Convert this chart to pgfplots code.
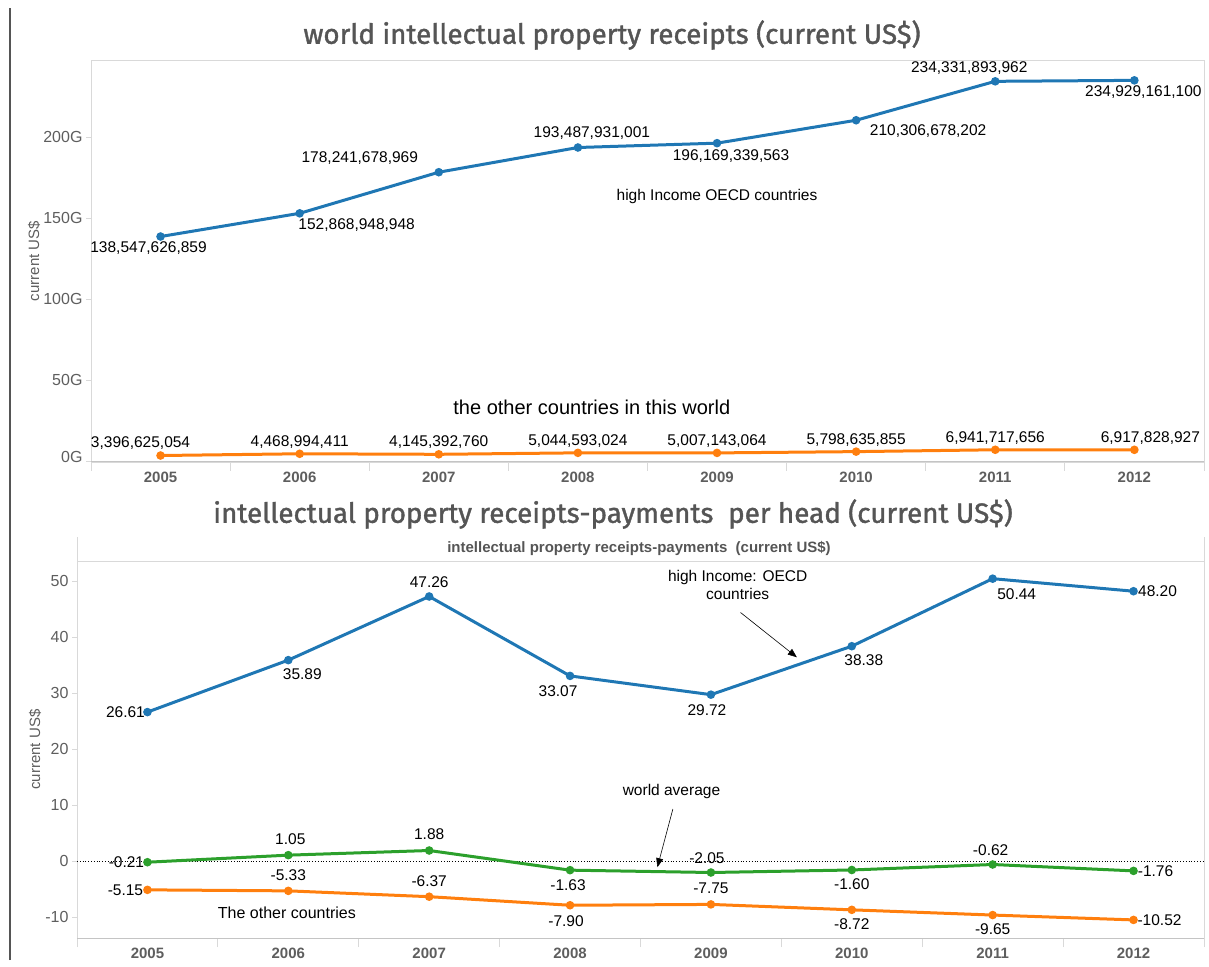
\documentclass[border=0pt]{standalone}
\usepackage{pgfplots}
\pgfplotsset{compat=1.18}
\usepackage{pgfplotstable}
\usepackage{fontspec}
\setmainfont{Liberation Sans}
\newfontfamily\titlefont{Fira Sans}[FakeBold=1.3]
\usetikzlibrary{arrows.meta}
\definecolor{tblue}{HTML}{1F77B4}
\definecolor{torange}{HTML}{FF7F0E}
\definecolor{tgreen}{HTML}{2CA02C}
\definecolor{tgray}{HTML}{555555}
\definecolor{ticktext}{HTML}{5E5E5E}
\definecolor{frame}{HTML}{D9D9D9}
\definecolor{axisline}{HTML}{C4C4C4}

% top panel: receipts in billions (G) of current US$
\pgfplotstableread{
x y dx dy label
0 138.547626859 -12 -12 138,547,626,859
1 152.868948948 57 -12 152,868,948,948
2 178.241678969 -79 14 178,241,678,969
3 193.487931001 14 14 193,487,931,001
4 196.169339563 14 -13 196,169,339,563
5 210.306678202 72 -11 210,306,678,202
6 234.331893962 -26 13 234,331,893,962
7 234.929161100 9 -12 234,929,161,100
}\topblue
\pgfplotstableread{
x y dx dy label
0 3.396625054 -20 12 3,396,625,054
1 4.468994411 0 12 4,468,994,411
2 4.145392760 0 12 4,145,392,760
3 5.044593024 0 12 5,044,593,024
4 5.007143064 0 12 5,007,143,064
5 5.798635855 0 12 5,798,635,855
6 6.941717656 0 12 6,941,717,656
7 6.917828927 16 12 6,917,828,927
}\toporange
% bottom panel: per head
\pgfplotstableread{
x y dx dy label
0 26.61 -22 0 26.61
1 35.89 14 -14 35.89
2 47.26 0 14 47.26
3 33.07 -12 -15 33.07
4 29.72 -4 -15 29.72
5 38.38 12 -14 38.38
6 50.44 24 -15 50.44
7 48.20 24 0 48.20
}\botblue
\pgfplotstableread{
x y dx dy label
0 -0.21 -21 0 -0.21
1 1.05 2 16 1.05
2 1.88 0 16 1.88
3 -1.63 -2 -15 -1.63
4 -2.05 -4 14 -2.05
5 -1.60 0 -14 -1.60
6 -0.62 -2 14 -0.62
7 -1.76 22 0 -1.76
}\botgreen
\pgfplotstableread{
x y dx dy label
0 -5.15 -22 0 -5.15
1 -5.33 0 16 -5.33
2 -6.37 0 16 -6.37
3 -7.90 -4 -16 -7.90
4 -7.75 0 16 -7.75
5 -8.72 0 -14 -8.72
6 -9.65 0 -14 -9.65
7 -10.52 26 0 -10.52
}\botorange

\pgfplotsset{
  lab/.style={nodes near coords, point meta=explicit symbolic,
    visualization depends on={\thisrow{dx}\as\labdx},
    visualization depends on={\thisrow{dy}\as\labdy},
    every node near coord/.append style={anchor=center, xshift=\labdx*1pt, yshift=\labdy*1pt,
      text=black, inner sep=0pt, font=\fontsize{15.5}{18}\selectfont}},
  ser/.style={line width=3pt, mark=*, mark size=2.7pt, mark options={solid}},
  base/.style={scale only axis, clip=false,
    xmin=-0.5, xmax=7.5, xtick={0,1,2,3,4,5,6,7},
    xticklabels={2005,2006,2007,2008,2009,2010,2011,2012},
    xtick style={draw=none},
    extra x ticks={-0.5,0.5,1.5,2.5,3.5,4.5,5.5,6.5,7.5},
    extra x tick labels={},
    extra x tick style={xtick style={draw=frame, line width=0.8pt}, major tick length=9pt},
    axis line style={draw=frame, line width=0.8pt},
    tick align=outside, ytick pos=left, xtick pos=bottom,
    ytick style={draw=frame, line width=0.8pt}, major tick length=5pt,
    tick label style={text=ticktext, font=\fontsize{16}{18}\selectfont},
    xticklabel style={yshift=-1pt, font=\bfseries\fontsize{15}{18}\selectfont},
    /pgf/number format/assume math mode=true,
  },
}

\begin{document}
\begin{tikzpicture}[x=1pt,y=1pt]
\useasboundingbox (0,0) rectangle (1209,966);
\draw[tgray, line width=1.2pt] (10,6) -- (10,958);

% titles
\node[text=tgray, font=\titlefont\fontsize{27.8}{32}\selectfont] at (612,931) {world intellectual property receipts (current US\$)};
\node[text=tgray, font=\titlefont\fontsize{27.8}{32}\selectfont] at (613,452) {intellectual property receipts-payments\ \ per head (current US\$)};
\node[text=tgray, font=\bfseries\fontsize{15}{18}\selectfont] at (639,418) {intellectual property receipts-payments\ \ (current US\$)};
\draw[frame, line width=0.8pt] (77,405) -- (77,429);
\draw[frame, line width=0.8pt] (1204,405) -- (1204,429);

% top panel
\begin{axis}[base, at={(91pt,504pt)}, anchor=south west, width=1113pt, height=402pt,
  ymin=-0.6, ymax=247.5, ytick={0,50,100,150,200}, yticklabels={\raisebox{9pt}{0G},50G,100G,150G,200G},
  ylabel={current US\$},
  every axis y label/.style={at={(axis description cs:0,0.5)}, xshift=-57pt, rotate=90, anchor=center,
    font=\fontsize{15}{18}\selectfont, text=ticktext}]
\draw[axisline, line width=1pt] (rel axis cs:0,0) -- (rel axis cs:1,0);
\addplot[ser, color=tblue, lab] table[x=x, y=y, meta=label] {\topblue};
\addplot[ser, color=torange, lab] table[x=x, y=y, meta=label] {\toporange};
\node[font=\fontsize{15.5}{18}\selectfont] at (axis cs:4,163) {high Income OECD countries};
\node[font=\fontsize{20}{24}\selectfont] at (axis cs:3.1,33) {the other countries in this world};
\end{axis}

% bottom panel
\begin{axis}[base, at={(77pt,28pt)}, anchor=south west, width=1127pt, height=377pt,
  ymin=-13.75, ymax=53.6, ytick={-10,0,10,20,30,40,50},
  ylabel={current US\$},
  every axis y label/.style={at={(axis description cs:0,0.5)}, xshift=-42pt, rotate=90, anchor=center,
    font=\fontsize{15}{18}\selectfont, text=ticktext}]
\draw[axisline, line width=1pt] (rel axis cs:0,0) -- (rel axis cs:1,0);
\draw[black, dotted, line width=0.8pt] (axis cs:-0.5,0) -- (axis cs:7.5,0);
\addplot[ser, color=tblue, lab] table[x=x, y=y, meta=label] {\botblue};
\addplot[ser, color=tgreen, lab] table[x=x, y=y, meta=label] {\botgreen};
\addplot[ser, color=torange, lab] table[x=x, y=y, meta=label] {\botorange};
\node[font=\fontsize{15.5}{18}\selectfont, align=center] at (axis cs:4.19,49.3) {high Income: OECD\\countries};
\draw[-{Triangle[length=9pt,width=7pt]}, line width=0.6pt] (axis cs:4.21,44.4) -- (axis cs:4.61,36.4);
\node[font=\fontsize{15.5}{18}\selectfont] at (axis cs:3.72,12.5) {world average};
\draw[-{Triangle[length=9pt,width=7pt]}, line width=0.6pt] (axis cs:3.73,9.3) -- (axis cs:3.62,-1.1);
\node[font=\fontsize{16}{18}\selectfont] at (axis cs:0.99,-9.3) {The other countries};
\end{axis}
\end{tikzpicture}
\end{document}
